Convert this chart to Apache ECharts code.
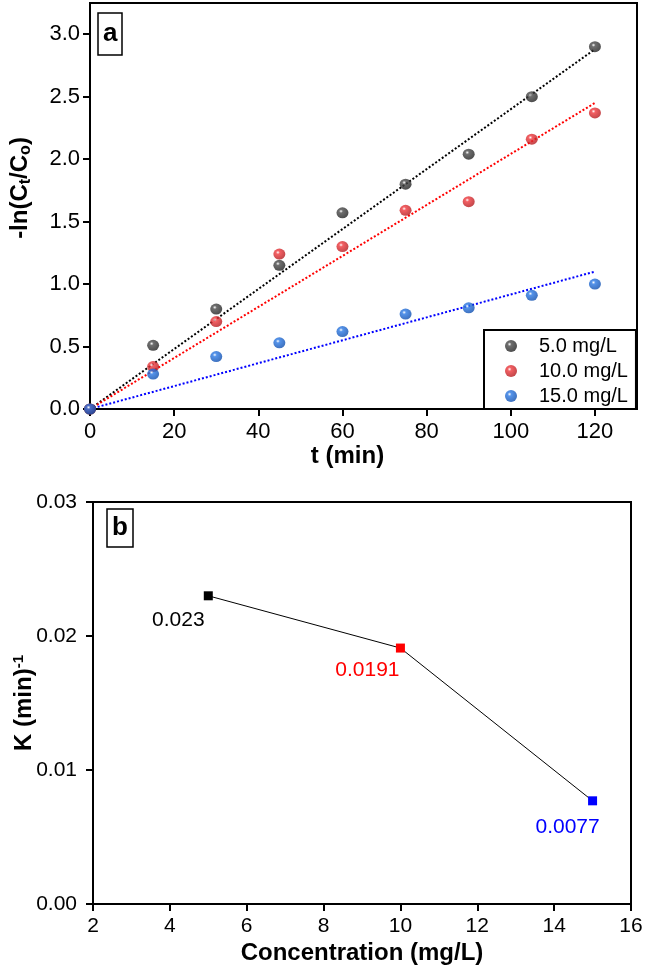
<!DOCTYPE html>
<html>
<head>
<meta charset="utf-8">
<script src="https://cdn.jsdelivr.net/npm/echarts@6/dist/echarts.min.js"></script>
<style>
  html, body { margin: 0; padding: 0; background: #fff; }
  #chart { width: 646px; height: 969px; }
</style>
</head>
<body>
<div id="chart"></div>
<script>
// panel a: -ln(Ct/Co) vs time
const times = [0, 15, 30, 45, 60, 75, 90, 105, 120]
const conc5 = [0, 0.51, 0.80, 1.15, 1.57, 1.80, 2.04, 2.50, 2.90]
const conc10 = [0, 0.34, 0.70, 1.24, 1.30, 1.59, 1.66, 2.16, 2.37]
const conc15 = [0, 0.28, 0.42, 0.53, 0.62, 0.76, 0.81, 0.91, 1.00]
// end values of the dotted fit lines at t = 120
const fitEnd = [2.88, 2.45, 1.10]
const seriesNames = ['5.0 mg/L', '10.0 mg/L', '15.0 mg/L']
const timeTicks = [0, 20, 40, 60, 80, 100, 120]
const lnTicks = [0, 0.5, 1.0, 1.5, 2.0, 2.5, 3.0]

// panel b: rate constant vs concentration
const concentrations = [5, 10, 15]
const rateK = [0.023, 0.0191, 0.0077]
const rateLabels = ['0.023', '0.0191', '0.0077']

const font = 'Liberation Sans, Arial, sans-serif'
const sphere = (base, dark) => ({
    type: 'radial', x: 0.38, y: 0.35, r: 0.65,
    colorStops: [
        { offset: 0, color: '#ffffff' },
        { offset: 0.25, color: base },
        { offset: 1, color: dark }
    ]
})
const dotColors = [sphere('#4a4a4a', '#222'), sphere('#f0383c', '#b51a1e'), sphere('#2a78e4', '#0f4fb0')]
const lineColors = ['#000000', '#ff0000', '#0000ff']
const labelColors = ['#000000', '#ff0000', '#0000ff']
const allConc = [conc5, conc10, conc15]

const chart = echarts.init(document.getElementById('chart'))

const axisCommon = {
    axisLine: { lineStyle: { color: '#000', width: 2 } },
    axisTick: { inside: false, length: 7, lineStyle: { color: '#000', width: 2 } },
    splitLine: { show: false },
    nameMoveOverlap: false,
    nameTextStyle: { fontFamily: font, fontWeight: 'bold', fontSize: 24, color: '#000' }
}

chart.setOption({
    animation: false,
    textStyle: { fontFamily: font },
    title: [
        {
            text: 'a', left: 98, top: 13,
            padding: [8, 5, 8, 5],
            borderColor: '#000', borderWidth: 1.5,
            textStyle: { fontFamily: font, fontSize: 26, fontWeight: 'bold', color: '#000' }
        },
        {
            text: 'b', left: 107, top: 509,
            padding: [6, 5, 6, 5],
            borderColor: '#000', borderWidth: 1.5,
            textStyle: { fontFamily: font, fontSize: 26, fontWeight: 'bold', color: '#000' }
        }
    ],
    legend: {
        data: seriesNames,
        orient: 'vertical',
        left: 484, top: 330,
        padding: [6, 8, 3, 21],
        itemWidth: 12, itemHeight: 12, itemGap: 5,
        borderColor: '#000', borderWidth: 2,
        icon: 'circle',
        textStyle: { fontFamily: font, fontSize: 20, color: '#000', padding: [0, 0, 0, 17] }
    },
    grid: [
        { left: 90, top: 3, width: 547, height: 406, show: true, borderColor: '#000', borderWidth: 2, outerBoundsMode: 'none' },
        { left: 93, top: 502, width: 538, height: 402, show: true, borderColor: '#000', borderWidth: 2, outerBoundsMode: 'none' }
    ],
    xAxis: [
        Object.assign({}, axisCommon, {
            gridIndex: 0, type: 'value', min: 0, max: 130,
            name: 't (min)', nameLocation: 'middle', nameGap: 35,
            nameTextStyle: Object.assign({}, axisCommon.nameTextStyle, { padding: [0, 32, 0, 0] }),
            axisTick: Object.assign({}, axisCommon.axisTick, { customValues: timeTicks }),
            axisLabel: { customValues: timeTicks, margin: 12, fontSize: 22, color: '#000', fontFamily: font }
        }),
        Object.assign({}, axisCommon, {
            gridIndex: 1, type: 'value', min: 2, max: 16, interval: 2,
            name: 'Concentration (mg/L)', nameLocation: 'middle', nameGap: 37,
            axisLabel: { margin: 12, fontSize: 21, color: '#000', fontFamily: font }
        })
    ],
    yAxis: [
        Object.assign({}, axisCommon, {
            gridIndex: 0, type: 'value', min: 0, max: 3.25,
            name: '-ln(C{sub|t}/C{sub|o})', nameLocation: 'middle', nameGap: 56,
            nameTextStyle: Object.assign({}, axisCommon.nameTextStyle, {
                padding: [0, 0, 0, 36],
                rich: { sub: { fontFamily: font, fontWeight: 'bold', fontSize: 16, padding: [11, 0, 0, 0] } }
            }),
            axisTick: Object.assign({}, axisCommon.axisTick, { customValues: lnTicks }),
            axisLabel: {
                customValues: lnTicks, margin: 10, fontSize: 22, color: '#000', fontFamily: font,
                formatter: v => v.toFixed(1)
            }
        }),
        Object.assign({}, axisCommon, {
            gridIndex: 1, type: 'value', min: 0, max: 0.03, interval: 0.01,
            name: 'K (min){sup|-1}', nameLocation: 'middle', nameGap: 55,
            nameTextStyle: Object.assign({}, axisCommon.nameTextStyle, {
                rich: { sup: { fontFamily: font, fontWeight: 'bold', fontSize: 15, padding: [0, 0, 12, 0] } }
            }),
            axisLabel: { margin: 16, fontSize: 21, color: '#000', fontFamily: font, formatter: v => v.toFixed(2) }
        })
    ],
    series: [
        // dotted fit lines
        ...fitEnd.map((end, i) => ({
            type: 'line', xAxisIndex: 0, yAxisIndex: 0, z: 2,
            showSymbol: false, silent: true,
            data: [[0, 0], [120, end]],
            lineStyle: { color: lineColors[i], width: 2, type: [2, 2] }
        })),
        // experimental points
        ...allConc.map((vals, i) => ({
            name: seriesNames[i], type: 'scatter', xAxisIndex: 0, yAxisIndex: 0, z: 3,
            symbol: 'circle', symbolSize: [12, 11],
            itemStyle: { color: dotColors[i] },
            data: times.map((t, j) => [t, vals[j]])
        })),
        // panel b
        {
            type: 'line', xAxisIndex: 1, yAxisIndex: 1,
            symbol: 'rect', symbolSize: 9,
            lineStyle: { color: '#000', width: 1 },
            data: concentrations.map((c, i) => ({
                value: [c, rateK[i]],
                itemStyle: { color: labelColors[i] },
                label: {
                    show: true, position: 'bottom',
                    formatter: rateLabels[i],
                    offset: [[-30, 4], [-33, 2], [-25, 6]][i],
                    color: labelColors[i], fontSize: 21, fontFamily: font
                }
            }))
        }
    ]
})
</script>
</body>
</html>
